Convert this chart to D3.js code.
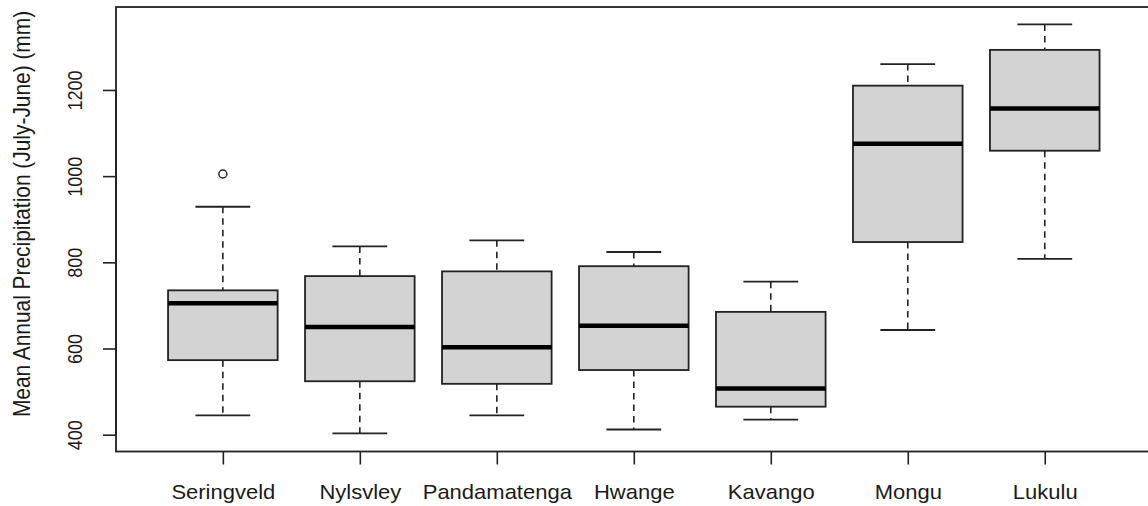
<!DOCTYPE html>
<html>
<head>
<meta charset="utf-8">
<script src="https://cdn.jsdelivr.net/npm/d3@7"></script>
<style>
  html, body { margin: 0; padding: 0; background: #ffffff; }
  svg { display: block; }
  text { font-family: "Liberation Sans", Arial, sans-serif; fill: #1a1a1a; }
</style>
</head>
<body>
<svg id="chart" width="1148" height="506"></svg>
<script>
// Mean annual precipitation (July-June) per site, as box-plot statistics (mm)
const sites = ["Seringveld", "Nylsvley", "Pandamatenga", "Hwange", "Kavango", "Mongu", "Lukulu"];
const whiskerLow  = [445, 403, 445, 412, 435, 643, 808];
const quartile1   = [573, 524, 518, 550, 465, 847, 1059];
const medians     = [705, 650, 603, 653, 507, 1075, 1157];
const quartile3   = [735, 768, 779, 791, 685, 1210, 1293];
const whiskerHigh = [929, 837, 851, 824, 755, 1260, 1352];
const outliers    = [[1005], [], [], [], [], [], []];
const yTicks      = [400, 600, 800, 1000, 1200];
const yTitle      = "Mean Annual Precipitation (July-June) (mm)";

const svg = d3.select("#chart");

// plot region
const plotLeft = 116, plotTop = 7, plotBottom = 451.5, plotRight = 1151.6;
// the text is drawn slightly wide horizontally
const widen = 1.1;

const y = d3.scaleLinear().domain([361, 1392.5]).range([plotBottom, plotTop]);
const x = d3.scaleLinear().domain([0.22, 7.78]).range([plotLeft, plotRight]);

const boxHalf = 0.4, capHalf = 0.2;

const rows = sites.map((s, i) => ({
  name: s, pos: i + 1,
  lo: whiskerLow[i], q1: quartile1[i], med: medians[i], q3: quartile3[i], hi: whiskerHigh[i],
  out: outliers[i]
}));

const g = svg.append("g");

const box = g.selectAll("g.box").data(rows).join("g").attr("class", "box");

// dashed whiskers
box.append("line")
  .attr("x1", d => x(d.pos)).attr("x2", d => x(d.pos))
  .attr("y1", d => y(d.hi)).attr("y2", d => y(d.q3))
  .attr("stroke", "#222").attr("stroke-width", 1.6).attr("stroke-dasharray", "6.5,5");
box.append("line")
  .attr("x1", d => x(d.pos)).attr("x2", d => x(d.pos))
  .attr("y1", d => y(d.q1)).attr("y2", d => y(d.lo))
  .attr("stroke", "#222").attr("stroke-width", 1.6).attr("stroke-dasharray", "6.5,5");

// whisker caps
box.append("line")
  .attr("x1", d => x(d.pos - capHalf)).attr("x2", d => x(d.pos + capHalf))
  .attr("y1", d => y(d.hi)).attr("y2", d => y(d.hi))
  .attr("stroke", "#222").attr("stroke-width", 1.8);
box.append("line")
  .attr("x1", d => x(d.pos - capHalf)).attr("x2", d => x(d.pos + capHalf))
  .attr("y1", d => y(d.lo)).attr("y2", d => y(d.lo))
  .attr("stroke", "#222").attr("stroke-width", 1.8);

// interquartile boxes
box.append("rect")
  .attr("x", d => x(d.pos - boxHalf))
  .attr("width", d => x(d.pos + boxHalf) - x(d.pos - boxHalf))
  .attr("y", d => y(d.q3))
  .attr("height", d => y(d.q1) - y(d.q3))
  .attr("fill", "#d3d3d3").attr("stroke", "#222").attr("stroke-width", 1.8);

// medians
box.append("line")
  .attr("x1", d => x(d.pos - boxHalf)).attr("x2", d => x(d.pos + boxHalf))
  .attr("y1", d => y(d.med)).attr("y2", d => y(d.med))
  .attr("stroke", "#000").attr("stroke-width", 4.5);

// outliers
box.selectAll("circle").data(d => d.out.map(v => ({pos: d.pos, v}))).join("circle")
  .attr("cx", d => x(d.pos)).attr("cy", d => y(d.v)).attr("r", 4)
  .attr("fill", "none").attr("stroke", "#222").attr("stroke-width", 1.4);

// frame
svg.append("rect")
  .attr("x", plotLeft).attr("y", plotTop)
  .attr("width", plotRight - plotLeft).attr("height", plotBottom - plotTop)
  .attr("fill", "none").attr("stroke", "#222").attr("stroke-width", 1.8);

// y axis
const yAxis = d3.axisLeft(y).tickValues(yTicks).tickSize(13).tickPadding(0).tickFormat(d3.format("d"));
const ya = svg.append("g").attr("transform", `translate(${plotLeft},0)`).call(yAxis);
ya.select(".domain").attr("stroke", "#222").attr("stroke-width", 1.8)
  .attr("d", `M0,${y(yTicks[0])}V${y(yTicks[yTicks.length - 1])}`);
ya.selectAll(".tick line").attr("stroke", "#222").attr("stroke-width", 1.6);
ya.selectAll(".tick text")
  .attr("x", 0).attr("dy", null)
  .attr("transform", `translate(-34,0) rotate(-90) scale(1,${widen})`)
  .attr("text-anchor", "middle")
  .style("font-size", "18px");

// x axis
const xAxis = d3.axisBottom(x).tickValues(rows.map(d => d.pos)).tickSize(13).tickPadding(0)
  .tickFormat((d, i) => sites[i]);
const xa = svg.append("g").attr("transform", `translate(0,${plotBottom})`).call(xAxis);
xa.select(".domain").remove();
xa.selectAll(".tick line").attr("stroke", "#222").attr("stroke-width", 1.6);
xa.selectAll(".tick text")
  .attr("y", 48).attr("dy", null)
  .attr("transform", `scale(${widen},1)`)
  .style("font-size", "20px");

// y title
svg.append("text")
  .attr("transform", `translate(30,214) rotate(-90) scale(1,${widen})`)
  .attr("text-anchor", "middle")
  .style("font-size", "20.9px")
  .text(yTitle);
</script>
</body>
</html>
